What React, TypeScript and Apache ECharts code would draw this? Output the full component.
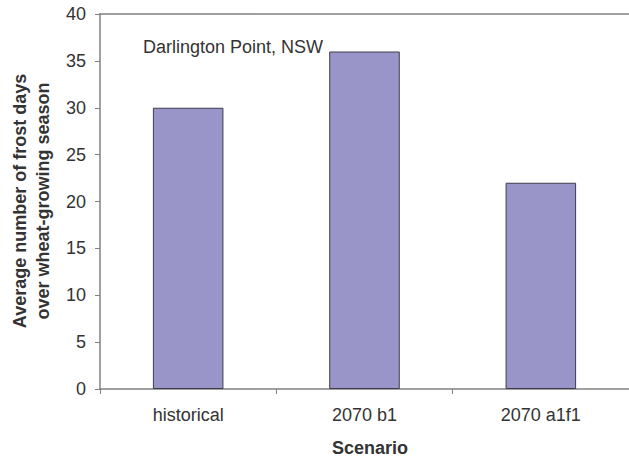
import React, { useEffect, useRef } from "react";
import * as echarts from "echarts";

const categories = ["historical", "2070 b1", "2070 a1f1"];
const frostDays = [30, 36, 22];
const yTicks = { min: 0, max: 40, interval: 5 };
const annotation = "Darlington Point, NSW";
const yTitle = "Average number of frost days\nover wheat-growing season";
const xTitle = "Scenario";

const FONT = "'Liberation Sans', Arial, Helvetica, sans-serif";

export default function App() {
  const ref = useRef<HTMLDivElement>(null);
  useEffect(() => {
    if (!ref.current) return;
    const chart = echarts.init(ref.current, undefined, { renderer: "svg" });
    chart.setOption({
      animation: false,
      backgroundColor: "#ffffff",
      grid: { left: 100, top: 14, width: 540, height: 375, containLabel: false },
      xAxis: [
        {
          type: "category",
          data: categories,
          boundaryGap: true,
          axisLine: { show: true, lineStyle: { color: "#808080", width: 1.5 } },
          axisTick: { show: true, alignWithLabel: false, length: 5, lineStyle: { color: "#808080", width: 1 } },
          axisLabel: { color: "#333333", fontFamily: FONT, fontSize: 18, margin: 17 },
          splitLine: { show: false },
        },
        {
          type: "category",
          data: categories,
          position: "top",
          axisLine: { show: true, lineStyle: { color: "#808080", width: 1.5 } },
          axisTick: { show: false },
          axisLabel: { show: false },
        },
      ],
      yAxis: {
        type: "value",
        min: yTicks.min,
        max: yTicks.max,
        interval: yTicks.interval,
        axisLine: { show: true, lineStyle: { color: "#808080", width: 1.5 } },
        axisTick: { show: true, length: 5, lineStyle: { color: "#808080", width: 1 } },
        axisLabel: { color: "#333333", fontFamily: FONT, fontSize: 18, margin: 14 },
        splitLine: { show: false },
      },
      series: [
        {
          type: "bar",
          data: frostDays,
          barWidth: "40%",
          itemStyle: { color: "#9A95C8", borderColor: "#3c3c4c", borderWidth: 1 },
        },
      ],
      graphic: [
        {
          type: "text",
          left: 143,
          top: 38,
          style: { text: annotation, font: `18px ${FONT}`, fill: "#333333" },
        },
        {
          type: "text",
          x: 31,
          y: 201,
          rotation: Math.PI / 2,
          style: {
            text: yTitle,
            font: `bold 18px ${FONT}`,
            fill: "#333333",
            align: "center",
            verticalAlign: "middle",
            lineHeight: 23,
          },
        },
        {
          type: "text",
          x: 370,
          y: 448,
          style: {
            text: xTitle,
            font: `bold 18px ${FONT}`,
            fill: "#333333",
            align: "center",
            verticalAlign: "middle",
          },
        },
      ],
    });
    return () => chart.dispose();
  }, []);
  return <div ref={ref} style={{ width: 629, height: 461, position: "absolute", left: 0, top: 0 }} />;
}
